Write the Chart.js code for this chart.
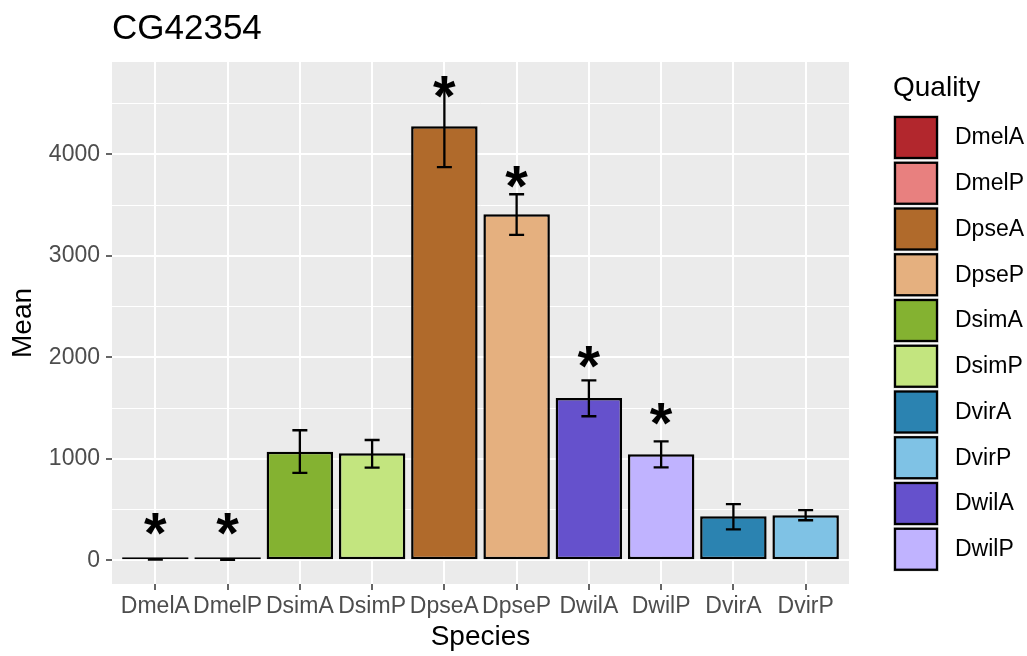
<!DOCTYPE html>
<html><head><meta charset="utf-8">
<script src="https://cdn.jsdelivr.net/npm/chart.js@4.4.1/dist/chart.umd.min.js"></script>
<style>html,body{margin:0;padding:0;background:#fff;} #wrap{width:1027px;height:656px;position:relative;}</style>
</head><body><div id="wrap"><canvas id="c" width="1027" height="656"></canvas></div>
<script>
const chartTitle = 'CG42354';
const xTitle = 'Species';
const yTitle = 'Mean';
const legendTitle = 'Quality';
const species = ['DmelA','DmelP','DsimA','DsimP','DpseA','DpseP','DwilA','DwilP','DvirA','DvirP'];
const means   = [8, 4, 1070, 1054, 4276, 3409, 1598, 1044, 433, 443];
const errLow  = [6, 3, 860, 913, 3874, 3206, 1419, 916, 305, 394];
const errHigh = [10, 5, 1281, 1185, 4675, 3606, 1773, 1172, 552, 493];
const stars   = [394, 394, null, null, 4700, 3813, 2039, 1478, null, null];
const yMajorTicks = [0, 1000, 2000, 3000, 4000];
const yMinorTicks = [500, 1500, 2500, 3500, 4500];
const legendOrder = ['DmelA','DmelP','DpseA','DpseP','DsimA','DsimP','DvirA','DvirP','DwilA','DwilP'];
const palette = {
  DmelA:'#B2272D', DmelP:'#E8807F', DpseA:'#B06A2B', DpseP:'#E5B07F',
  DsimA:'#84B231', DsimP:'#C3E57F', DvirA:'#2B83B1', DvirP:'#7FC2E5',
  DwilA:'#6551CC', DwilP:'#C0B3FF'
};

const FONT = '"Liberation Sans", Arial, Helvetica, sans-serif';
const isMajor = v => yMajorTicks.includes(v);

const panelBg = {
  id:'panelBg',
  beforeDraw(chart){
    const {ctx, chartArea:a} = chart;
    ctx.save(); ctx.fillStyle = '#EBEBEB';
    ctx.fillRect(a.left, a.top, a.right-a.left, a.bottom-a.top);
    ctx.restore();
  }
};

const extras = {
  id:'extras',
  afterDatasetsDraw(chart){
    const {ctx} = chart; const xs = chart.scales.x, ys = chart.scales.y;
    ctx.save();
    ctx.strokeStyle = '#000'; ctx.lineWidth = 2.3; ctx.lineCap = 'butt';
    species.forEach((s,i)=>{
      const x = xs.getPixelForValue(i);
      const y1 = ys.getPixelForValue(errLow[i]), y2 = ys.getPixelForValue(errHigh[i]);
      const hw = 7.5;
      ctx.beginPath();
      ctx.moveTo(x, y1); ctx.lineTo(x, y2);
      ctx.moveTo(x-hw, y1); ctx.lineTo(x+hw, y1);
      ctx.moveTo(x-hw, y2); ctx.lineTo(x+hw, y2);
      ctx.stroke();
    });
    ctx.fillStyle = '#000'; ctx.textAlign = 'center'; ctx.textBaseline = 'alphabetic';
    const fs = 58;
    ctx.font = 'bold ' + fs + 'px ' + FONT;
    stars.forEach((v,i)=>{
      if (v === null) return;
      const x = xs.getPixelForValue(i);
      const y = ys.getPixelForValue(v);
      ctx.fillText('*', x, y + 0.56*fs);
    });
    ctx.restore();
  },
  afterDraw(chart){
    const {ctx} = chart;
    ctx.save();
    ctx.fillStyle = '#000'; ctx.textAlign = 'left'; ctx.textBaseline = 'alphabetic';
    ctx.font = '35px ' + FONT;
    ctx.fillText(chartTitle, 112, 39);
    ctx.font = '28px ' + FONT;
    ctx.fillText(legendTitle, 893, 96);
    ctx.font = '23px ' + FONT;
    ctx.textBaseline = 'middle';
    legendOrder.forEach((s,i)=>{
      const top = 116 + i*45.75;
      ctx.fillStyle = '#EBEBEB';
      ctx.fillRect(893, top-1, 46, 45);
      ctx.fillStyle = palette[s];
      ctx.fillRect(895, top+1, 42, 41);
      ctx.strokeStyle = '#000'; ctx.lineWidth = 2.3;
      ctx.strokeRect(895, top+1, 42, 41);
      ctx.fillStyle = '#000';
      ctx.fillText(s, 955, top + 22);
    });
    ctx.restore();
  }
};

new Chart(document.getElementById('c'), {
  type:'bar',
  data:{
    datasets:[{
      data: means.map((v,i)=>({x:i, y:v})),
      backgroundColor: species.map(s=>palette[s]),
      borderColor:'#000',
      borderWidth:2.5,
      borderSkipped:false,
      minBarLength:3,
      barPercentage:0.92,
      categoryPercentage:1.0
    }]
  },
  options:{
    responsive:false,
    maintainAspectRatio:false,
    animation:false,
    devicePixelRatio:1,
    layout:{padding:{top:62, right:178, left:0, bottom:0}},
    plugins:{legend:{display:false}, title:{display:false}, tooltip:{enabled:false}},
    scales:{
      x:{
        type:'linear', min:-0.6, max:9.6, offset:false,
        afterFit(s){ s.height = 72; },
        afterBuildTicks(s){ s.ticks = species.map((_,i)=>({value:i})); },
        ticks:{ autoSkip:false, maxRotation:0, padding:3, color:'#4D4D4D',
          font:{family:FONT, size:23},
          callback:(v)=>species[v] },
        grid:{ offset:false, color:'#FFFFFF', lineWidth:2, tickColor:'#333333', tickWidth:1.5, tickLength:6, drawOnChartArea:true },
        border:{display:false},
        title:{display:true, text:xTitle, color:'#000', font:{family:FONT, size:28}, padding:{top:0,bottom:2}}
      },
      y:{
        type:'linear', min:-234, max:4909,
        afterFit(s){ s.width = 112; },
        afterBuildTicks(s){ s.ticks = yMajorTicks.concat(yMinorTicks).sort((a,b)=>a-b).map(v=>({value:v})); },
        ticks:{ padding:6, color:'#4D4D4D', font:{family:FONT, size:23},
          callback:(v)=> isMajor(v) ? String(v) : '' },
        grid:{ color:'#FFFFFF',
          lineWidth:(c)=> isMajor(c.tick.value) ? 2 : 1,
          tickColor:(c)=> isMajor(c.tick.value) ? '#333333' : 'rgba(0,0,0,0)',
          tickWidth:1.5, tickLength:6 },
        border:{display:false},
        title:{display:true, text:yTitle, color:'#000', font:{family:FONT, size:28}, padding:{top:6,bottom:0}}
      }
    }
  },
  plugins:[panelBg, extras]
});
</script></body></html>
